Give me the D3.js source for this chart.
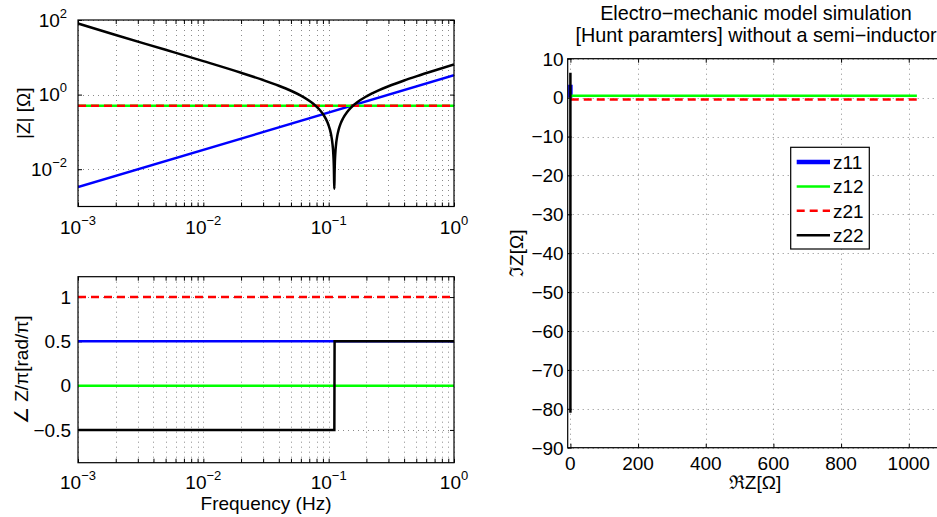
<!DOCTYPE html>
<html><head><meta charset="utf-8">
<script src="https://cdn.jsdelivr.net/npm/d3@7"></script>
<style>
body{margin:0;background:#fff;}
text{font-family:"Liberation Sans",Arial,Helvetica,sans-serif;fill:#000;}
</style></head><body>
<svg id="c" width="937" height="517"></svg>
<script>
// ---------------- data ----------------
const seriesNames  = ["z11", "z12", "z21", "z22"];
const seriesColors = ["#0000ff", "#00ff00", "#ff0000", "#000000"];

const z11Freq  = [0.001, 1];
const z11Mag   = [0.0033, 3.3];
const z11Phase = [0.5, 0.5];

const z12Freq  = [0.001, 1];
const z12Mag   = [0.5, 0.5];
const z12Phase = [0, 0];

const z21Freq  = [0.001, 1];
const z21Mag   = [0.5, 0.5];
const z21Phase = [1, 1];

const z22Freq  = [0.001, 0.002, 0.005, 0.01, 0.02, 0.03, 0.04, 0.05, 0.06, 0.07, 0.075, 0.08, 0.085, 0.09, 0.095, 0.1, 0.1025, 0.105, 0.1065, 0.108, 0.1085, 0.1095, 0.11, 0.1105, 0.111,
                  0.1115, 0.112, 0.1125, 0.1135, 0.115, 0.117, 0.12, 0.125, 0.13, 0.14, 0.15, 0.17, 0.2, 0.25, 0.3, 0.4, 0.5, 0.7, 1];
const z22Mag   = [81.0, 39.78, 15.88, 7.893, 3.849, 2.459, 1.7305, 1.268, 0.938, 0.684, 0.5756, 0.477, 0.3861, 0.302, 0.2229, 0.1486, 0.1131, 0.0784, 0.058, 0.0379, 0.0312, 0.018, 0.0115, 0.0051, 0.003,
                  0.0079, 0.0143, 0.0207, 0.0334, 0.0522, 0.0771, 0.1135, 0.1724, 0.2292, 0.3376, 0.440, 0.6321, 0.896, 1.2996, 1.676, 2.3898, 3.077, 4.417, 6.392];
const z22Phase = [-0.5, -0.5, -0.5, -0.5, -0.5, -0.5, -0.5, -0.5, -0.5, -0.5, -0.5, -0.5, -0.5, -0.5, -0.5, -0.5, -0.5, -0.5, -0.5, -0.5, -0.5, -0.5, -0.5, -0.5, -0.5,
                  0.5, 0.5, 0.5, 0.5, 0.5, 0.5, 0.5, 0.5, 0.5, 0.5, 0.5, 0.5, 0.5, 0.5, 0.5, 0.5, 0.5, 0.5, 0.5];

// real-valued series (z12, z21) are drawn against their sample index in the right panel
const sampleIndex = [1, 1024];

const freqTicks  = [0.001, 0.01, 0.1, 1];
const magTicks   = [0.01, 1, 100];
const phaseTicks = [-0.5, 0, 0.5, 1];
const reTicks    = [0, 200, 400, 600, 800, 1000];
const imTicks    = [-90, -80, -70, -60, -50, -40, -30, -20, -10, 0, 10];

const titleLines = ["Electro\u2212mechanic model simulation", "[Hunt paramters] without a semi\u2212inductor"];

// ---------------- build series ----------------
const series = [
  {name: seriesNames[0], color: seriesColors[0], f: z11Freq, m: z11Mag, p: z11Phase, complex: true,  dash: null, wRight: 4.5},
  {name: seriesNames[1], color: seriesColors[1], f: z12Freq, m: z12Mag, p: z12Phase, complex: false, dash: null, wRight: 2.5},
  {name: seriesNames[2], color: seriesColors[2], f: z21Freq, m: z21Mag, p: z21Phase, complex: false, dash: "8,5", wRight: 2.5},
  {name: seriesNames[3], color: seriesColors[3], f: z22Freq, m: z22Mag, p: z22Phase, complex: true,  dash: null, wRight: 2.5}
];
series.forEach(s => {
  s.pts = s.f.map((f, i) => ({f, m: s.m[i], p: s.p[i],
    re: s.m[i] * Math.cos(s.p[i] * Math.PI), im: s.m[i] * Math.sin(s.p[i] * Math.PI)}));
  s.right = s.complex
    ? s.pts.map(d => ({x: Math.abs(d.re) < 1e-9 ? 0 : d.re, y: d.im}))
    : sampleIndex.map((n, i) => ({x: n, y: s.pts[Math.min(i, s.pts.length - 1)].re}));
});

const svg = d3.select("#c");
const FS = 19;
const GRID = {stroke: "#8a8a8a", dash: "1,4"};

// ---------------- helpers ----------------
function panel(id, x, y) {
  const [x0, x1] = x.range(), [y0, y1] = y.range();
  svg.append("clipPath").attr("id", id).append("rect")
    .attr("x", x0).attr("y", y1).attr("width", x1 - x0).attr("height", y0 - y1);
  return {x0, x1, yb: y0, yt: y1};
}
function grid(b, x, y, xv, yv) {
  const g = svg.append("g");
  g.selectAll(".gx").data(xv).join("line")
    .attr("x1", d => Math.round(x(d)) + 0.5).attr("x2", d => Math.round(x(d)) + 0.5)
    .attr("y1", b.yt).attr("y2", b.yb)
    .attr("stroke", GRID.stroke).attr("stroke-dasharray", GRID.dash).attr("stroke-width", 1);
  g.selectAll(".gy").data(yv).join("line")
    .attr("y1", d => Math.round(y(d)) + 0.5).attr("y2", d => Math.round(y(d)) + 0.5)
    .attr("x1", b.x0).attr("x2", b.x1)
    .attr("stroke", GRID.stroke).attr("stroke-dasharray", GRID.dash).attr("stroke-width", 1);
}
function ticks(b, x, y, xv, yv, len) {
  const g = svg.append("g");
  const mk = (axis, tr) => {
    const a = g.append("g").attr("transform", tr).call(axis);
    a.select(".domain").remove();
    a.selectAll("line").attr("stroke", "#000");
  };
  mk(d3.axisBottom(x).tickValues(xv).tickSize(-len).tickFormat(""), `translate(0,${b.yb})`);
  mk(d3.axisTop(x).tickValues(xv).tickSize(-len).tickFormat(""), `translate(0,${b.yt})`);
  mk(d3.axisLeft(y).tickValues(yv).tickSize(-len).tickFormat(""), `translate(${b.x0},0)`);
  mk(d3.axisRight(y).tickValues(yv).tickSize(-len).tickFormat(""), `translate(${b.x1},0)`);
}
function box(b) {
  svg.append("rect").attr("x", b.x0).attr("y", b.yt).attr("width", b.x1 - b.x0).attr("height", b.yb - b.yt)
    .attr("fill", "none").attr("stroke", "#000").attr("stroke-width", 1.2);
}
function powLabel(g, v, xpos, ypos, anchor) {
  const e = Math.round(Math.log10(v));
  const t = g.append("text").attr("x", xpos).attr("y", ypos).attr("text-anchor", anchor).attr("font-size", FS);
  t.append("tspan").text("10");
  t.append("tspan").attr("dy", -9).attr("font-size", 13).text(String(e).replace("-", "\u2212"));
}
const fmtNum = d => String(d).replace("-", "\u2212");

// ---------------- top-left: |Z| ----------------
const xA = d3.scaleLog().domain([1e-3, 1]).range([78, 454]);
const yA = d3.scaleLog().domain([1e-3, 1e2]).range([206.5, 20]);
const bA = panel("clipA", xA, yA);
grid(bA, xA, yA, xA.ticks(), magTicks);
ticks(bA, xA, yA, xA.ticks(), magTicks, 4);
const gA = svg.append("g").attr("clip-path", "url(#clipA)");
series.forEach(s => {
  gA.append("path").datum(s.pts)
    .attr("d", d3.line().curve(d3.curveMonotoneX).x(d => xA(d.f)).y(d => yA(d.m)))
    .attr("fill", "none").attr("stroke", s.color).attr("stroke-width", 2.5)
    .attr("stroke-dasharray", s.dash);
});
box(bA);
const lA = svg.append("g");
freqTicks.forEach(v => powLabel(lA, v, xA(v), bA.yb + 27, "middle"));
magTicks.forEach(v => powLabel(lA, v, bA.x0 - 11, yA(v) + 6.5, "end"));
svg.append("text").attr("transform", `translate(30,${(bA.yb + bA.yt) / 2}) rotate(-90)`)
  .attr("text-anchor", "middle").attr("font-size", FS).text("|Z| [\u03A9]");

// ---------------- bottom-left: phase ----------------
const xB = d3.scaleLog().domain([1e-3, 1]).range([78, 454]);
const yB = d3.scaleLinear().domain([-0.87, 1.23]).range([462.7, 276.7]);
const bB = panel("clipB", xB, yB);
grid(bB, xB, yB, xB.ticks(), phaseTicks);
ticks(bB, xB, yB, xB.ticks(), phaseTicks, 4);
const gB = svg.append("g").attr("clip-path", "url(#clipB)");
series.forEach(s => {
  gB.append("path").datum(s.pts)
    .attr("d", d3.line().x(d => xB(d.f)).y(d => yB(d.p)))
    .attr("fill", "none").attr("stroke", s.color).attr("stroke-width", 2.5)
    .attr("stroke-dasharray", s.dash);
});
box(bB);
const lB = svg.append("g");
freqTicks.forEach(v => powLabel(lB, v, xB(v), bB.yb + 25.8, "middle"));
phaseTicks.forEach(v => lB.append("text").attr("x", bB.x0 - 7).attr("y", yB(v) + 6.8)
  .attr("text-anchor", "end").attr("font-size", FS).text(fmtNum(v)));
svg.append("text").attr("transform", `translate(28,${(bB.yb + bB.yt) / 2}) rotate(-90)`)
  .attr("text-anchor", "middle").attr("font-size", FS).text("\u2220 Z/\u03C0[rad/\u03C0]");
svg.append("text").attr("x", (bB.x0 + bB.x1) / 2).attr("y", 510)
  .attr("text-anchor", "middle").attr("font-size", FS).text("Frequency (Hz)");

// ---------------- right: complex plane ----------------
const xC = d3.scaleLinear().domain([-8, 1100]).range([567.7, 942.6]);
const yC = d3.scaleLinear().domain([-90, 10]).range([447.7, 58.7]);
const bC = panel("clipC", xC, yC);
grid(bC, xC, yC, reTicks, imTicks);
ticks(bC, xC, yC, reTicks, imTicks, 4);
const gC = svg.append("g").attr("clip-path", "url(#clipC)");
series.forEach(s => {
  gC.append("path").datum(s.right)
    .attr("d", d3.line().x(d => xC(d.x)).y(d => yC(d.y)))
    .attr("fill", "none").attr("stroke", s.color).attr("stroke-width", s.wRight)
    .attr("stroke-dasharray", s.dash);
});
box(bC);
const lC = svg.append("g");
reTicks.forEach(v => lC.append("text").attr("x", xC(v)).attr("y", bC.yb + 22.3)
  .attr("text-anchor", "middle").attr("font-size", FS).text(fmtNum(v)));
imTicks.forEach(v => lC.append("text").attr("x", bC.x0 - 4).attr("y", yC(v) + 6.8)
  .attr("text-anchor", "end").attr("font-size", FS).text(fmtNum(v)));
svg.append("text").attr("transform", `translate(523,${(bC.yb + bC.yt) / 2}) rotate(-90)`)
  .attr("text-anchor", "middle").attr("font-size", FS).text("\u2111Z[\u03A9]");
svg.append("text").attr("x", 755).attr("y", 489)
  .attr("text-anchor", "middle").attr("font-size", FS).text("\u211CZ[\u03A9]");
titleLines.forEach((t, i) => svg.append("text").attr("x", 756).attr("y", 20 + i * 21.5)
  .attr("text-anchor", "middle").attr("font-size", 19.8).text(t));

// legend
const leg = svg.append("g");
leg.append("rect").attr("x", 790.7).attr("y", 147.3).attr("width", 78.6).attr("height", 101.7)
  .attr("fill", "#fff").attr("stroke", "#000").attr("stroke-width", 1.2);
series.forEach((s, i) => {
  const cy = 162 + i * 24.4;
  leg.append("line").attr("x1", 796.7).attr("x2", 830).attr("y1", cy).attr("y2", cy)
    .attr("stroke", s.color).attr("stroke-width", s.wRight).attr("stroke-dasharray", s.dash);
  leg.append("text").attr("x", 833).attr("y", cy + 7).attr("font-size", FS).text(s.name);
});
</script>
</body></html>
